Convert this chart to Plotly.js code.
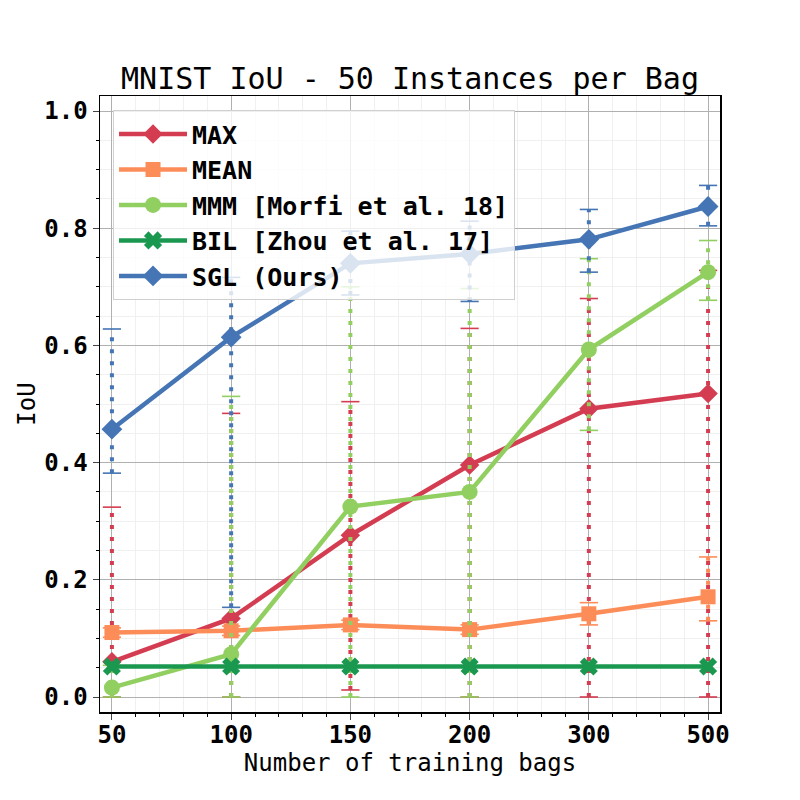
<!DOCTYPE html>
<html>
<head>
<meta charset="utf-8">
<script src="https://cdn.plot.ly/plotly-3.0.1.min.js"></script>
<style>
  html, body { margin: 0; padding: 0; background: #fff; }
  #chart { width: 800px; height: 800px; }
</style>
</head>
<body>
<div id="chart"></div>
<script>
// training set sizes (x categories)
var bags = ['50', '100', '150', '200', '300', '500'];

var max_iou = [0.060, 0.134, 0.276, 0.396, 0.492, 0.518];
var max_hi = [0.324, 0.484, 0.504, 0.629, 0.680, 0.728];
var max_lo = [0.000, 0.000, 0.012, 0.000, 0.000, 0.000];

var mean_iou = [0.110, 0.113, 0.123, 0.115, 0.142, 0.171];
var mean_hi = [0.118, 0.121, 0.131, 0.123, 0.161, 0.239];
var mean_lo = [0.102, 0.105, 0.115, 0.107, 0.123, 0.130];

var mmm_iou = [0.016, 0.073, 0.325, 0.350, 0.593, 0.725];
var mmm_hi = [0.054, 0.513, 0.700, 0.697, 0.748, 0.779];
var mmm_lo = [0.000, 0.000, 0.000, 0.000, 0.455, 0.677];

var bil_iou = [0.052, 0.052, 0.052, 0.052, 0.052, 0.052];

var sgl_iou = [0.457, 0.614, 0.740, 0.756, 0.781, 0.837];
var sgl_hi = [0.628, 0.716, 0.795, 0.812, 0.832, 0.873];
var sgl_lo = [0.382, 0.153, 0.686, 0.675, 0.725, 0.804];

var y_ticks = [0, 0.2, 0.4, 0.6, 0.8, 1.0];

var font_mono = '"DejaVu Sans Mono", "Liberation Mono", monospace';

// categories sit at 0..n-1 on a linear axis so minor ticks work
var xpos = bags.map(function (b, i) { return i; });

var series = [
	{ name: 'MAX', y: max_iou, hi: max_hi, lo: max_lo, color: '#d43d51', symbol: 'diamond', size: 15 },
	{ name: 'MEAN', y: mean_iou, hi: mean_hi, lo: mean_lo, color: '#fc8d59', symbol: 'square', size: 15 },
	{ name: 'MMM [Morfi et al. 18]', y: mmm_iou, hi: mmm_hi, lo: mmm_lo, color: '#91cf60', symbol: 'circle', size: 16 },
	{ name: 'BIL [Zhou et al. 17]', y: bil_iou, hi: null, lo: null, color: '#1a9850', symbol: 'x', size: 16 },
	{ name: 'SGL (Ours)', y: sgl_iou, hi: sgl_hi, lo: sgl_lo, color: '#4575b4', symbol: 'diamond', size: 16 }
];

var data = [];

series.forEach(function (s) {
	// dotted error bar with caps, one segment per category
	if (s.hi) {
		var ex = [], ey = [];
		for (var i = 0; i < xpos.length; i++) {
			ex.push(xpos[i], xpos[i], null);
			ey.push(s.lo[i], s.hi[i], null);
		}
		data.push({
			x: ex,
			y: ey,
			type: 'scatter',
			mode: 'lines+markers',
			showlegend: false,
			hoverinfo: 'skip',
			line: { color: s.color, width: 4, dash: '4px,8px' },
			marker: { symbol: 'line-ew', size: 13, line: { color: s.color, width: 1.6 } }
		});
	}
	data.push({
		x: xpos,
		y: s.y,
		type: 'scatter',
		mode: 'lines+markers',
		name: s.name,
		line: { color: s.color, width: 4.5 },
		marker: { color: s.color, symbol: s.symbol, size: s.size, line: { width: 0 } }
	});
});

var layout = {
	width: 800,
	height: 800,
	margin: { l: 100, r: 80, t: 96, b: 88 },
	paper_bgcolor: '#ffffff',
	plot_bgcolor: '#ffffff',
	font: { family: font_mono, color: '#000000' },
	title: {
		text: 'MNIST IoU - 50 Instances per Bag',
		font: { family: font_mono, size: 30, color: '#000000' },
		x: 0.5125,
		xanchor: 'center',
		y: 0.9025,
		yanchor: 'middle'
	},
	xaxis: {
		type: 'linear',
		range: [-0.1, 5.1],
		tickmode: 'array',
		tickvals: xpos,
		ticktext: bags,
		tickfont: { family: font_mono, size: 24, weight: 'bold' },
		ticks: 'outside',
		ticklen: 6,
		tickwidth: 1,
		ticklabelstandoff: -5,
		showgrid: true,
		gridcolor: '#b0b0b0',
		gridwidth: 1,
		zeroline: false,
		showline: true,
		linecolor: '#000000',
		linewidth: 1.5,
		mirror: true,
		minor: { tick0: 0, dtick: 0.2, ticks: 'outside', ticklen: 3, tickcolor: '#000000', showgrid: true, gridcolor: '#f0f0f0' },
		title: { text: 'Number of training bags', font: { family: font_mono, size: 24 }, standoff: 0 }
	},
	yaxis: {
		range: [-0.0256, 1.0256],
		tickmode: 'array',
		tickvals: y_ticks,
		tickformat: '.1f',
		tickfont: { family: font_mono, size: 24, weight: 'bold' },
		ticks: 'outside',
		ticklen: 6,
		tickwidth: 1,
		showgrid: true,
		gridcolor: '#b0b0b0',
		gridwidth: 1,
		zeroline: false,
		showline: true,
		linecolor: '#000000',
		linewidth: 1.5,
		mirror: true,
		minor: { tick0: 0, dtick: 0.05, ticks: 'outside', ticklen: 3, tickcolor: '#000000', showgrid: true, gridcolor: '#f0f0f0' },
		title: { text: 'IoU', font: { family: font_mono, size: 24 }, standoff: 2 }
	},
	showlegend: true,
	legend: {
		x: 0.021,
		y: 0.977,
		xanchor: 'left',
		yanchor: 'top',
		bgcolor: 'rgba(255,255,255,0.8)',
		bordercolor: '#d0d0d0',
		borderwidth: 1,
		itemwidth: 68,
		tracegroupgap: 0,
		font: { family: font_mono, size: 25, weight: 'bold', color: '#000000' }
	}
};

Plotly.newPlot('chart', data, layout, { displayModeBar: false, staticPlot: true });
</script>
</body>
</html>
